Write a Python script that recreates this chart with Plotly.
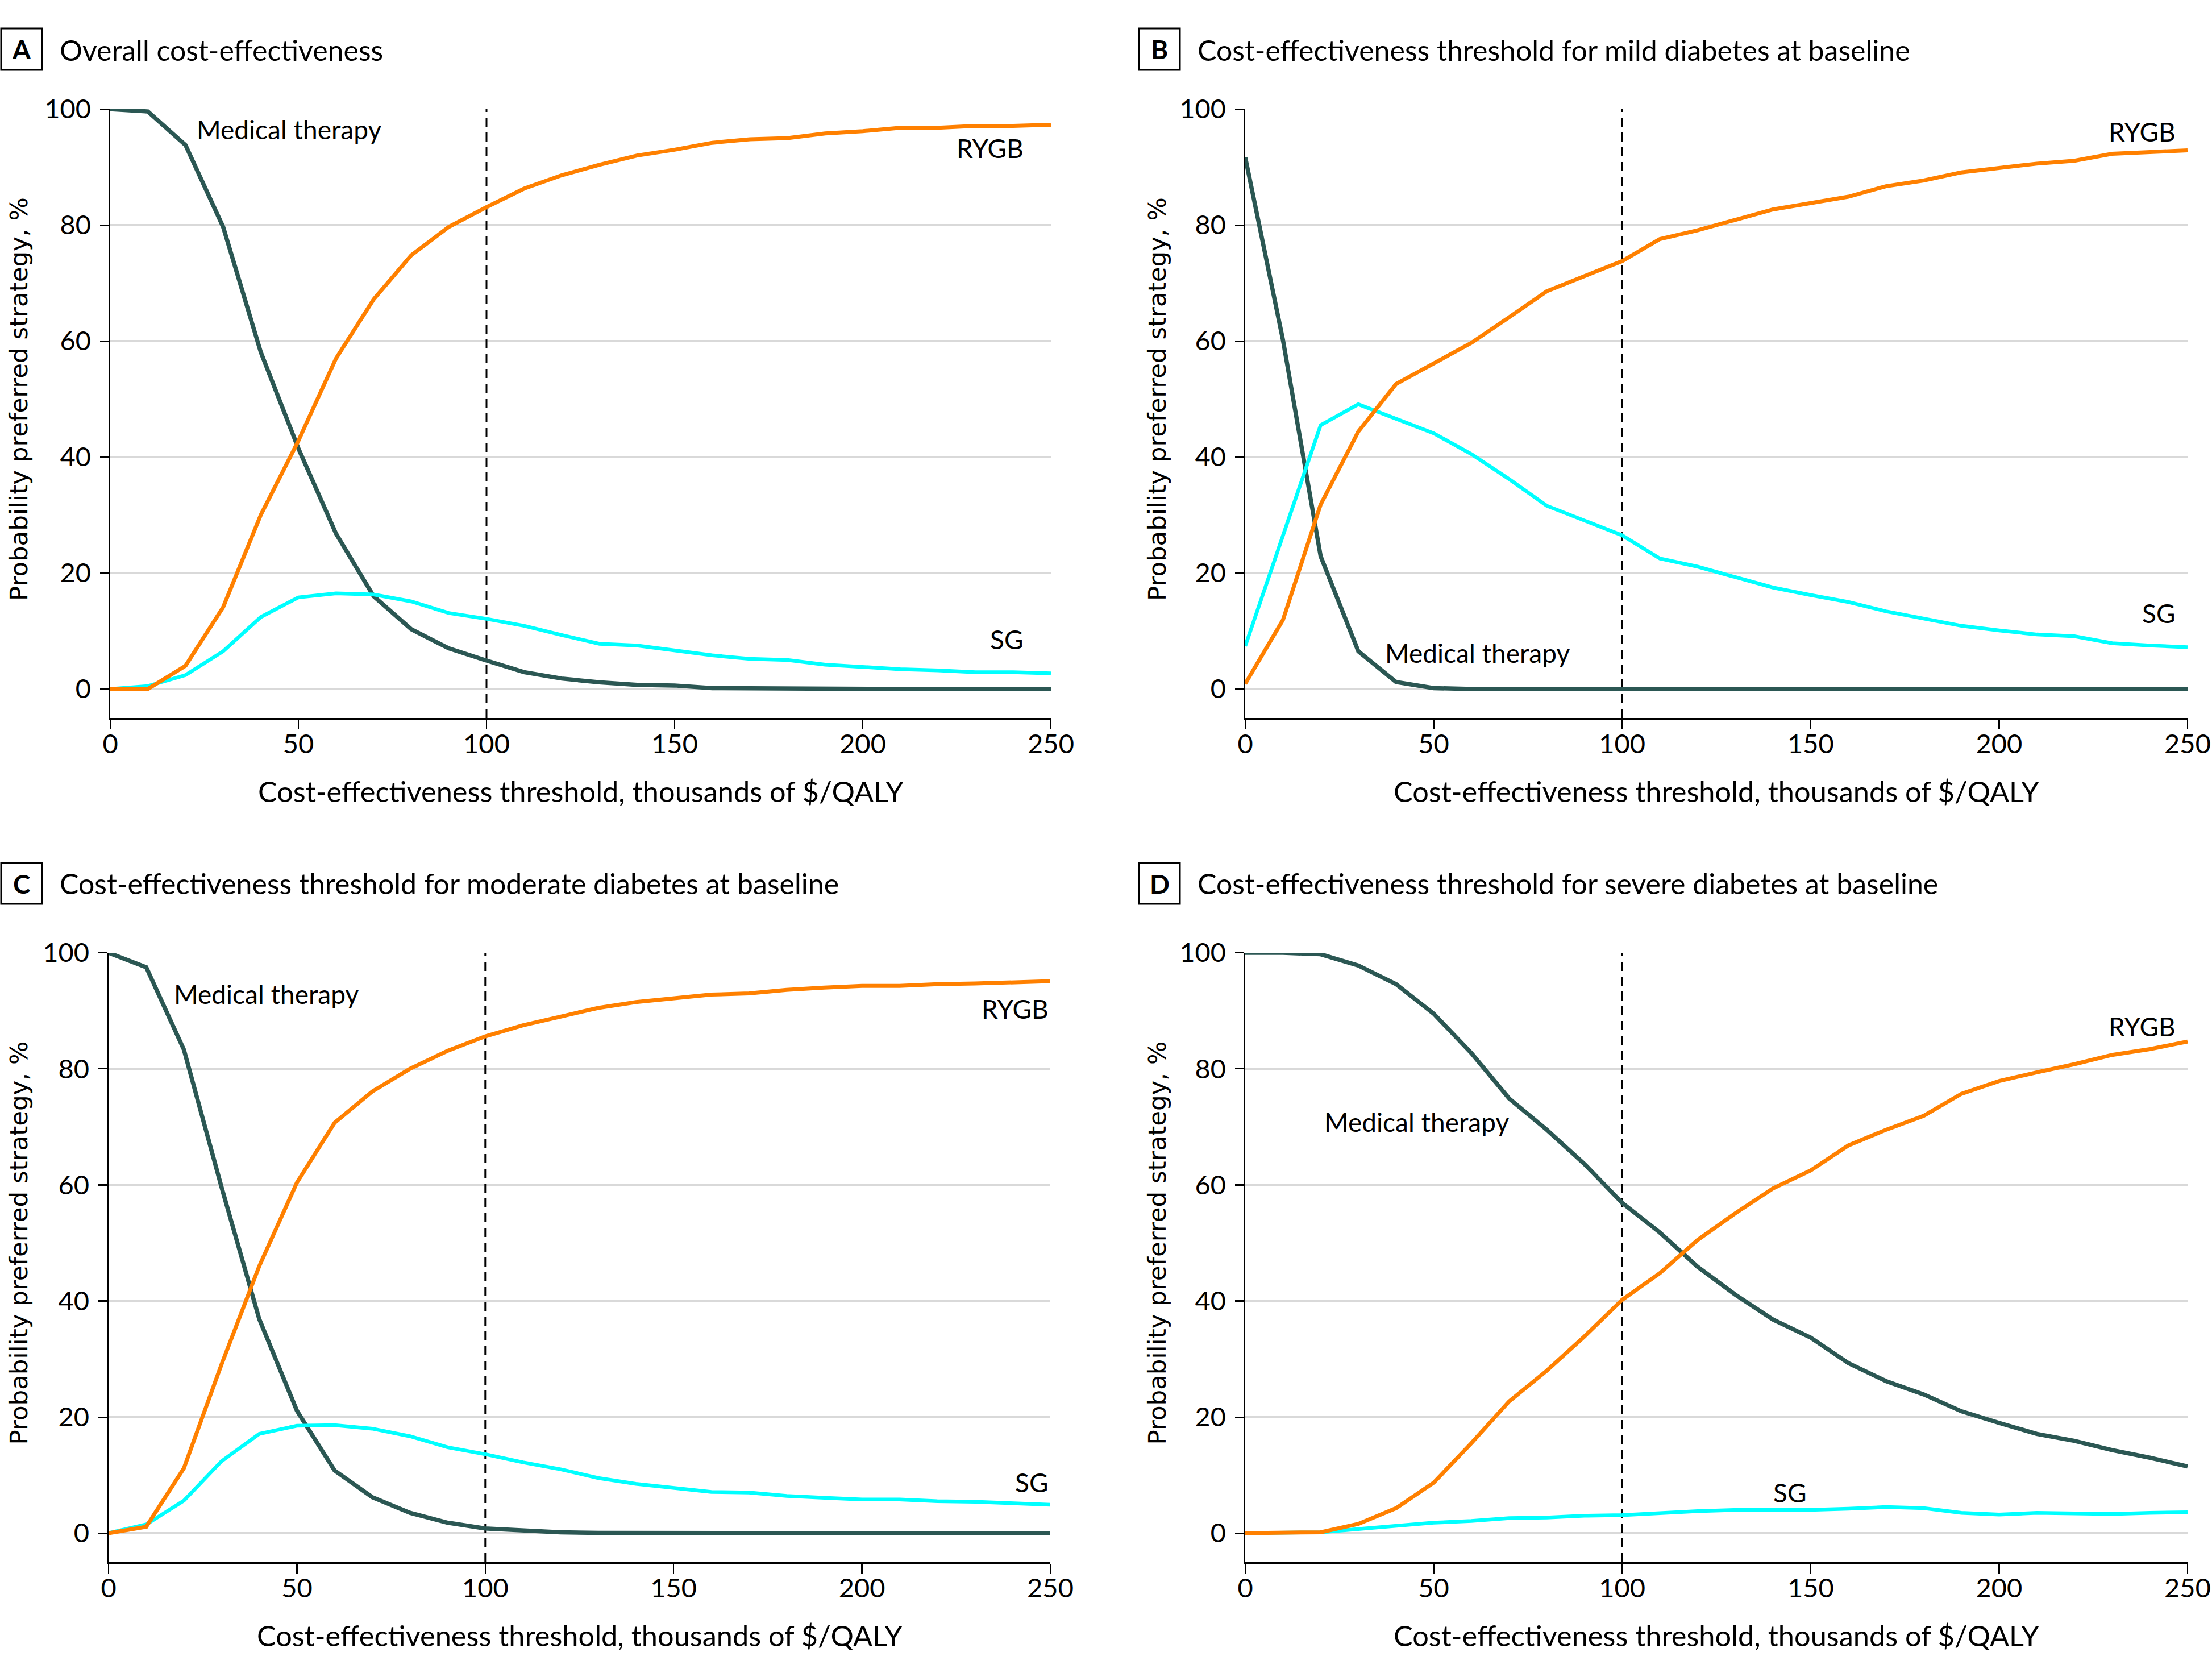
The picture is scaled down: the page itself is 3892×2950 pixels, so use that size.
import plotly.graph_objects as go

# ---------------- data ----------------
thresholds = list(range(0, 260, 10))  # thousands of $/QALY
THRESHOLD_LINE = 100

panel_letters = ["A", "B", "C", "D"]
panel_titles = [
    "Overall cost-effectiveness",
    "Cost-effectiveness threshold for mild diabetes at baseline",
    "Cost-effectiveness threshold for moderate diabetes at baseline",
    "Cost-effectiveness threshold for severe diabetes at baseline",
]
series_names = ["Medical therapy", "SG", "RYGB"]

medical_A = [100, 99.6, 93.8, 79.7, 58.1, 41.5, 26.8, 16.0, 10.3, 7.0, 4.9, 2.9, 1.8, 1.15, 0.7, 0.6,
             0.15, 0.1, 0, 0, 0, 0, 0, 0, 0, 0]
sg_A = [0, 0.5, 2.4, 6.5, 12.4, 15.8, 16.5, 16.3, 15.1, 13.1, 12.1, 10.9, 9.3, 7.8, 7.5, 6.6,
        5.8, 5.2, 5.0, 4.2, 3.8, 3.4, 3.2, 2.9, 2.9, 2.7]
rygb_A = [0, 0, 4.0, 14.1, 30.0, 42.8, 57.0, 67.2, 74.8, 79.7, 83.1, 86.3, 88.6, 90.4, 92.0, 93.0,
          94.2, 94.8, 95.0, 95.8, 96.2, 96.8, 96.8, 97.1, 97.1, 97.3]

medical_B = [91.7, 60.2, 22.9, 6.5, 1.2, 0.15, 0, 0, 0, 0, 0, 0, 0, 0, 0, 0,
             0, 0, 0, 0, 0, 0, 0, 0, 0, 0]
sg_B = [7.4, 26.5, 45.5, 49.1, 46.6, 44.1, 40.5, 36.2, 31.6, 29.0, 26.5, 22.5, 21.1, 19.3, 17.5, 16.2,
        15.0, 13.4, 12.2, 10.9, 10.1, 9.4, 9.1, 7.9, 7.5, 7.2]
rygb_B = [0.9, 11.9, 31.8, 44.4, 52.6, 56.1, 59.7, 64.1, 68.6, 71.2, 73.8, 77.6, 79.1, 80.9, 82.7, 83.8,
          84.9, 86.7, 87.7, 89.1, 89.9, 90.6, 91.1, 92.3, 92.6, 92.9]

medical_C = [100, 97.5, 83.3, 59.6, 36.9, 21.1, 10.8, 6.2, 3.5, 1.8, 0.8, 0.5, 0.15, 0.05, 0, 0,
             0, 0, 0, 0, 0, 0, 0, 0, 0, 0]
sg_C = [0, 1.5, 5.6, 12.4, 17.1, 18.5, 18.6, 18.0, 16.7, 14.8, 13.6, 12.2, 11.0, 9.5, 8.5, 7.8,
        7.1, 7.0, 6.4, 6.1, 5.8, 5.8, 5.5, 5.4, 5.1, 4.9]
rygb_C = [0, 1.1, 11.2, 29.1, 46.0, 60.4, 70.7, 76.1, 80.0, 83.1, 85.6, 87.5, 89.0, 90.5, 91.5, 92.2,
          92.8, 93.0, 93.6, 94.0, 94.3, 94.3, 94.6, 94.7, 94.9, 95.1]

medical_D = [100, 100, 99.75, 97.8, 94.6, 89.5, 82.7, 74.9, 69.5, 63.6, 56.9, 51.8, 45.9, 41.1, 36.8, 33.7,
             29.3, 26.2, 23.9, 21.0, 19.0, 17.1, 15.9, 14.3, 13.0, 11.5]
sg_D = [0, 0, 0.15, 0.7, 1.3, 1.8, 2.1, 2.6, 2.7, 3.0, 3.1, 3.5, 3.8, 4.0, 4.0, 4.0,
        4.2, 4.5, 4.3, 3.5, 3.2, 3.5, 3.4, 3.3, 3.5, 3.6]
rygb_D = [0, 0, 0.15, 1.6, 4.3, 8.7, 15.5, 22.7, 28.0, 33.9, 40.2, 44.8, 50.5, 55.1, 59.4, 62.5,
          66.8, 69.5, 71.9, 75.7, 77.9, 79.4, 80.8, 82.4, 83.4, 84.7]

# label positions (data coordinates) : (x, y, anchor)
labels_A = [("Medical therapy", 22.6, 96.5, "left"), ("RYGB", 243, 93.3, "right"), ("SG", 243, 8.6, "right")]
labels_B = [("Medical therapy", 36.8, 6.2, "left"), ("RYGB", 247.1, 96.1, "right"), ("SG", 247.1, 13.1, "right")]
labels_C = [("Medical therapy", 17.0, 92.9, "left"), ("RYGB", 249.8, 90.4, "right"), ("SG", 249.8, 8.8, "right")]
labels_D = [("Medical therapy", 20.7, 70.9, "left"), ("RYGB", 247.1, 87.3, "right"), ("SG", 144.5, 7.0, "center")]

x_ticks = [0, 50, 100, 150, 200, 250]
y_ticks = [0, 20, 40, 60, 80, 100]
x_title = "Cost-effectiveness threshold, thousands of $/QALY"
y_title = "Probability preferred strategy, %"

# ---------------- style ----------------
OFF = 0  # page margin removed via post_script below
W, H = 3892, 2950
FONT = "Lato, sans-serif"
YFONT = "DejaVu Sans, Verdana, sans-serif"
COL_MED = "#2b5753"
COL_SG = "#00ffff"
COL_RYGB = "#ff8000"
colors = {"Medical therapy": COL_MED, "SG": COL_SG, "RYGB": COL_RYGB}
widths = {"Medical therapy": 7.5, "SG": 6.5, "RYGB": 7}

# window-pixel geometry of each panel: (x0, x1, y_top(100), y_bottom(-5))
geo = [
    (194, 1849, 192, 1263),
    (2191, 3849, 192, 1263),
    (191, 1848, 1676, 2748),
    (2191, 3849, 1676, 2748),
]
title_y = [88, 88, 1554, 1554]
box_x = [(2, 74), (2004, 2076), (2, 74), (2004, 2076)]
box_y = [(50, 123), (50, 123), (1518, 1590), (1518, 1590)]
ytitle_x = [33, 2036, 33, 2036]

all_data = [
    (medical_A, sg_A, rygb_A, labels_A),
    (medical_B, sg_B, rygb_B, labels_B),
    (medical_C, sg_C, rygb_C, labels_C),
    (medical_D, sg_D, rygb_D, labels_D),
]


def px(xp):
    return (xp - OFF) / W


def py(yp):
    return 1 - (yp - OFF) / H


fig = go.Figure()
annotations = []
shapes = []
layout_axes = {}

for i, (med, sg, rygb, labs) in enumerate(all_data):
    n = i + 1
    xa = "x" if n == 1 else f"x{n}"
    ya = "y" if n == 1 else f"y{n}"
    x0, x1, yt, yb = geo[i]
    for name, vals in zip(series_names, [med, sg, rygb]):
        fig.add_trace(go.Scatter(
            x=thresholds, y=vals, mode="lines", name=name,
            line=dict(color=colors[name], width=widths[name]),
            xaxis=xa, yaxis=ya, showlegend=False, cliponaxis=False,
            hoverinfo="skip",
        ))
    layout_axes["xaxis" if n == 1 else f"xaxis{n}"] = dict(
        domain=[px(x0), px(x1)], range=[0, 250], anchor=ya, automargin=False,
        tickvals=x_ticks, ticks="outside", ticklen=17, tickwidth=2.5, tickcolor="black",
        showline=True, linecolor="black", linewidth=3, showgrid=False, zeroline=False,
        tickfont=dict(family=FONT, size=47, color="black"), ticklabelstandoff=-14,
        fixedrange=True,
    )
    layout_axes["yaxis" if n == 1 else f"yaxis{n}"] = dict(
        domain=[py(yb), py(yt)], range=[-5, 100], anchor=xa, automargin=False,
        tickvals=y_ticks, ticks="outside", ticklen=16, tickwidth=2.5, tickcolor="black",
        showline=True, linecolor="black", linewidth=2.5,
        showgrid=True, gridcolor="#d9d9d9", gridwidth=4, zeroline=False,
        tickfont=dict(family=FONT, size=47, color="black"), ticklabelstandoff=6,
        fixedrange=True,
    )
    # threshold dashed line
    shapes.append(dict(type="line", xref=xa, yref=ya, x0=THRESHOLD_LINE, x1=THRESHOLD_LINE,
                       y0=-5, y1=100, line=dict(color="black", width=3, dash="16px,10px"),
                       layer="between"))
    # panel box
    bx0, bx1 = box_x[i]
    by0, by1 = box_y[i]
    shapes.append(dict(type="rect", xref="paper", yref="paper", x0=px(bx0), x1=px(bx1),
                       y0=py(by1), y1=py(by0), line=dict(color="black", width=3)))
    annotations.append(dict(text=f"<b>{panel_letters[i]}</b>", xref="paper", yref="paper",
                            x=px((bx0 + bx1) / 2), y=py((by0 + by1) / 2), xanchor="center",
                            yanchor="middle", showarrow=False,
                            font=dict(family=FONT, size=46, color="black")))
    annotations.append(dict(text=panel_titles[i], xref="paper", yref="paper",
                            x=px(bx1 + 29), y=py(title_y[i]), xanchor="left", yanchor="middle",
                            showarrow=False, font=dict(family=FONT, size=50, color="black")))
    # axis titles
    annotations.append(dict(text=x_title, xref="paper", yref="paper",
                            x=px((x0 + x1) / 2), y=py(yb + 128), xanchor="center", yanchor="middle",
                            showarrow=False, font=dict(family=FONT, size=50.5, color="black")))
    y0pix = yt + (yb - yt) * 100 / 105
    annotations.append(dict(text=y_title, xref="paper", yref="paper", textangle=-90,
                            x=px(ytitle_x[i]), y=py((yt + y0pix) / 2), xanchor="center",
                            yanchor="middle", showarrow=False,
                            font=dict(family=YFONT, size=43.5, color="black")))
    # series labels
    for text, lx, ly, anc in labs:
        annotations.append(dict(text=text, xref=xa, yref=ya, x=lx, y=ly, xanchor=anc,
                                yanchor="middle", showarrow=False,
                                font=dict(family=FONT, size=46, color="black")))

fig.update_layout(
    width=W, height=H, autosize=False,
    margin=dict(l=0, r=0, t=0, b=0, pad=0, autoexpand=False),
    paper_bgcolor="white", plot_bgcolor="white",
    annotations=annotations, shapes=shapes, showlegend=False,
    **layout_axes,
)

fig.write_html(
    "out.html",
    config={"displayModeBar": False, "staticPlot": True},
    post_script="document.body.style.margin='0';document.documentElement.style.overflow='hidden';",
)
